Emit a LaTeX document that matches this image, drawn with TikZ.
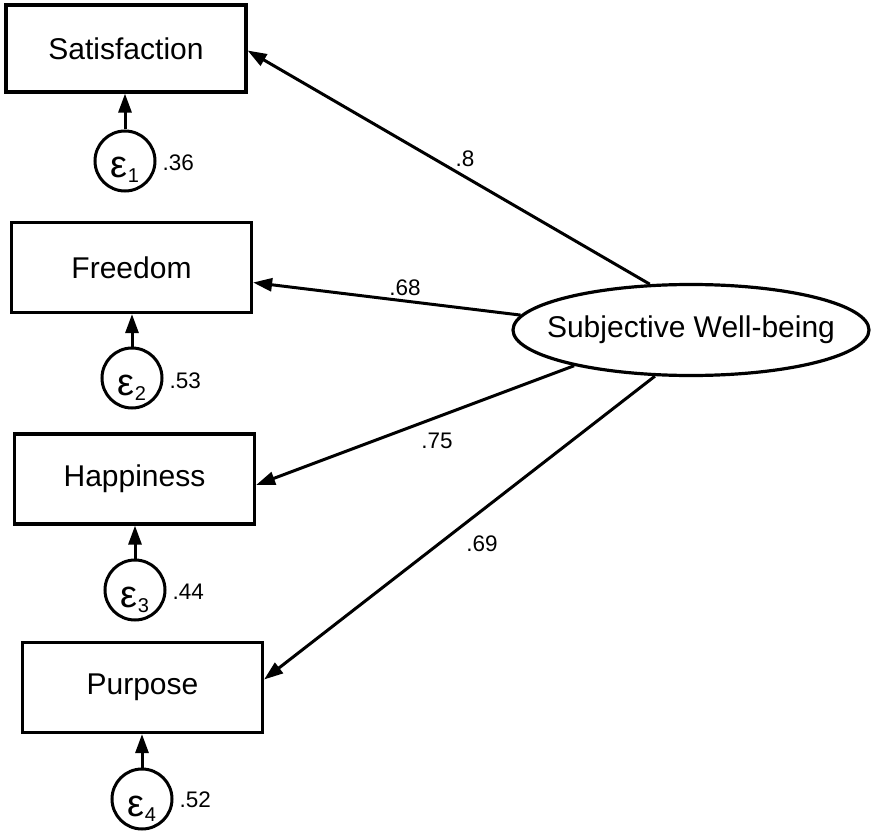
\documentclass[tikz,border=0pt]{standalone}
\usepackage{fontspec}
\setmainfont{Liberation Sans}
\usetikzlibrary{arrows.meta,shapes.geometric}

\tikzset{
  obs/.style={draw, line width=3.2pt, rectangle, minimum width=240pt, minimum height=90pt,
              inner sep=0pt, font=\fontsize{30}{32}\selectfont},
  err/.style={draw, line width=3pt, circle, minimum size=60pt, inner sep=0pt},
  errtxt/.style={anchor=base, inner sep=0pt, font=\fontsize{38}{40}\selectfont},
  lat/.style={draw, line width=3.2pt, ellipse, minimum width=356pt, minimum height=91pt,
              inner sep=0pt, font=\fontsize{30}{32}\selectfont},
  val/.style={inner sep=0pt, font=\fontsize{22.5}{24}\selectfont},
  path/.style={line width=3pt, -{Triangle[length=19pt,width=13pt]}},
}
\newcommand{\errsub}[1]{\raisebox{-5pt}{\fontsize{20}{22}\selectfont #1}}

\begin{document}
\begin{tikzpicture}[x=1pt,y=-1pt]
\useasboundingbox (0,0) rectangle (871,832);

% observed indicators
\node[obs, minimum height=87pt] (b1) at (126,48.5) {Satisfaction};
\node[obs] (b2) at (131.5,267.5) {Freedom};
\node[obs] (b3) at (134.5,479) {Happiness};
\node[obs] (b4) at (142.5,687.5) {Purpose};

% error terms
\node[err] (e1) at (125,161) {};
\node[err] (e2) at (132,378) {};
\node[err] (e3) at (135,590) {};
\node[err] (e4) at (142,799) {};

\node[errtxt] (t1) at ([yshift=-17pt]e1.center) {ε\errsub{1}};
\node[errtxt] (t2) at ([yshift=-17pt]e2.center) {ε\errsub{2}};
\node[errtxt] (t3) at ([yshift=-17pt]e3.center) {ε\errsub{3}};
\node[errtxt] (t4) at ([yshift=-17pt]e4.center) {ε\errsub{4}};

% error variances
\node[val, anchor=west] (v1) at ([xshift=6pt,yshift=-2pt]e1.east) {.36};
\node[val, anchor=west] (v2) at ([xshift=6pt,yshift=-3pt]e2.east) {.53};
\node[val, anchor=west] (v3) at ([xshift=6pt,yshift=-2pt]e3.east) {.44};
\node[val, anchor=west] (v4) at ([xshift=6pt,yshift=-1pt]e4.east) {.52};

\foreach \i in {1,2,3,4}
  \draw[path] (e\i.north) -- (e\i.north |- b\i.south);

% latent factor (text in a zero-width box so the ellipse keeps its set size)
\node[lat] (swb) at (691,330) {\makebox[0pt]{Subjective Well-being}};

% loadings
\draw[path] (swb.132.3) -- ([yshift=-2pt]b1.east);
\draw[path] (swb.175.7) -- ([yshift=-15pt]b2.east);
\draw[path] (swb.197.7) -- ([yshift=-6pt]b3.east);
\draw[path] (swb.232) -- ([yshift=8pt]b4.east);

\node[val] (l1) at (465,159) {.8};
\node[val] (l2) at (405,288) {.68};
\node[val] (l3) at (437,441) {.75};
\node[val] (l4) at (482,544) {.69};
\end{tikzpicture}
\end{document}
